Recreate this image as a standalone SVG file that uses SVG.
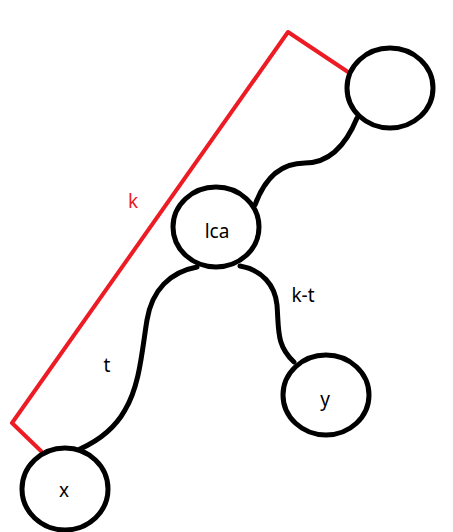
<svg xmlns="http://www.w3.org/2000/svg" width="453" height="532" viewBox="0 0 453 532">
<style>
.n{fill:none;stroke:#000;stroke-width:5}
.e{fill:none;stroke:#000;stroke-width:5;stroke-linecap:round}
.r{fill:none;stroke:#ed1c24;stroke-width:4;stroke-linejoin:round;stroke-linecap:round}
text{font-family:"Noto Sans","DejaVu Sans",sans-serif;font-size:19px;text-anchor:middle}
</style>
<rect width="453" height="532" fill="#fff"/>
<g id="connectors">
<path class="e" d="M357,118 C348,140 333,163 305,163 C280,163 264,180 255,205"/>
<path class="e" d="M197,267 C170,272 152,290 147,320 C142,350 140,385 125,410 C115,428 100,440 80,449"/>
<path class="e" d="M240,266 C262,270 275,285 277,305 C279,330 276,345 294,362"/>
<polyline class="r" points="348,72 288,32 12,423 41,451"/>
<text x="133" y="208" fill="#ed1c24">k</text>
<text x="107" y="372">t</text>
<text x="303" y="302">k-t</text>
</g>
<g id="root"><ellipse class="n" cx="390" cy="88" rx="43" ry="40"/></g>
<g id="lca"><ellipse class="n" cx="216" cy="227" rx="43" ry="40"/><text x="217" y="238">lca</text></g>
<g id="x"><ellipse class="n" cx="65" cy="489" rx="43" ry="41"/><text x="64" y="497">x</text></g>
<g id="y"><ellipse class="n" cx="326" cy="395" rx="43" ry="40"/><text x="325" y="406">y</text></g>
</svg>
